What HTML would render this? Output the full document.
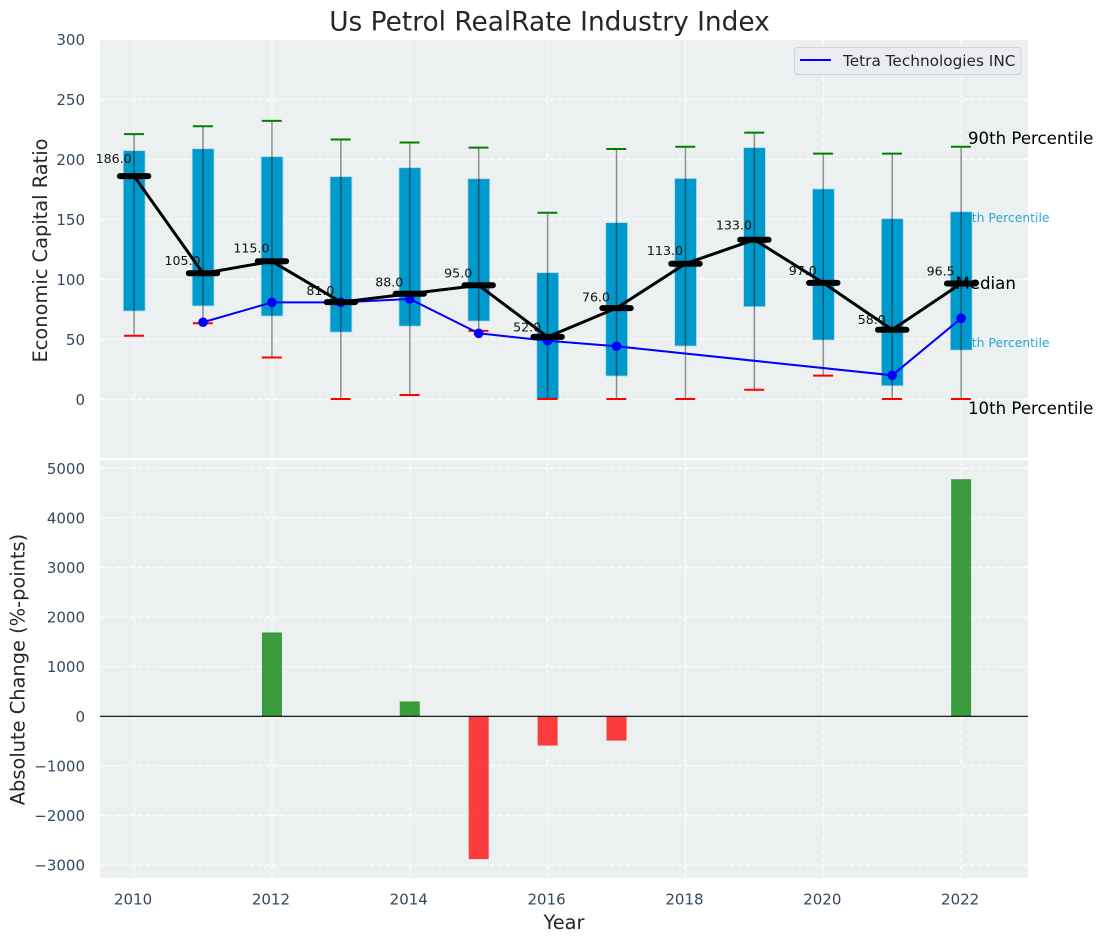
<!DOCTYPE html>
<html>
<head>
<meta charset="utf-8">
<title>Us Petrol RealRate Industry Index</title>
<style>
html,body{margin:0;padding:0;background:#fff;}
svg{display:block;font-family:"DejaVu Sans","Liberation Sans",sans-serif;}
</style>
</head>
<body>
<svg id="chart" xmlns="http://www.w3.org/2000/svg" width="1103" height="942" viewBox="0 0 1103 942">
  <rect x="0" y="0" width="1103" height="942" fill="#ffffff"/>
  <rect x="100" y="40" width="928" height="418" fill="#ecf0f1"/>
  <rect x="100" y="460" width="928" height="418" fill="#ecf0f1"/>
  <g id="grid"></g>
  <text x="956" y="222" font-size="12.4" fill="#0099cc" fill-opacity="0.85">75th Percentile</text>
  <text x="956" y="347" font-size="12.4" fill="#0099cc" fill-opacity="0.85">25th Percentile</text>
  <g id="marks"></g>
  <text x="549.5" y="30.5" font-size="26.4" fill="#262626" text-anchor="middle">Us Petrol RealRate Industry Index</text>
  <text x="0" y="0" transform="translate(47,250.5) rotate(-90)" font-size="19.4" fill="#262626" text-anchor="middle">Economic Capital Ratio</text>
  <text x="0" y="0" transform="translate(24.5,669.5) rotate(-90)" font-size="19.4" fill="#262626" text-anchor="middle">Absolute Change (%-points)</text>
  <text x="564" y="929" font-size="19.4" fill="#262626" text-anchor="middle">Year</text>
  <text x="968" y="144" font-size="16.6" fill="#000000">90th Percentile</text>
  <text x="955.5" y="289" font-size="16.6" fill="#000000">Median</text>
  <text x="968" y="414" font-size="16.6" fill="#000000">10th Percentile</text>
  <g>
    <rect x="794.5" y="47.5" width="226.5" height="27" rx="3" fill="#eaecf1" stroke="#cfd2d6" stroke-width="1"/>
    <line x1="800" x2="831" y1="60" y2="60" stroke="#0000ff" stroke-width="2"/>
    <text x="843" y="66" font-size="15.3" fill="#262626">Tetra Technologies INC</text>
  </g>
</svg>
<script>
const years = [2010,2011,2012,2013,2014,2015,2016,2017,2018,2019,2020,2021,2022];
const p90 = [221,227.5,232,216.5,214,209.7,155.5,208.6,210.5,222.2,204.7,204.7,210.5];
const p75 = [207.2,208.8,202.2,185.5,193,183.8,105.5,147.2,184,209.7,175.3,150.5,156.3];
const medians = [186,105,115,81,88,95,52,76,113,133,97,58,96.5];
const p25 = [73.6,77.8,69.4,56,61,65.2,0,19.4,44.4,77.2,49.4,11.3,41];
const p10 = [53,63.4,34.8,0.3,3.6,57,0.3,0.3,0.3,8,19.7,0.3,0.3];
const tetra = [null,64.2,80.8,80.8,83.6,55,48.8,44.2,null,null,null,20,67.5];
const changes = [0,0,1690,0,300,-2880,-590,-490,0,0,0,0,4780];
const xTicks = [2010,2012,2014,2016,2018,2020,2022];
const topTicks = [0,50,100,150,200,250,300];
const bottomTicks = [-3000,-2000,-1000,0,1000,2000,3000,4000,5000];

const NS = 'http://www.w3.org/2000/svg';
const gridG = document.getElementById('grid');
const marksG = document.getElementById('marks');
const X = v => 134.1 + (v - 2010) * 68.92;
const YT = v => 399.3 - v * 1.2;
const YB = v => 716.3 - v * 0.0496;

function mk(tag, attrs, parent, text) {
  const el = document.createElementNS(NS, tag);
  for (const k in attrs) el.setAttribute(k, attrs[k]);
  if (text !== undefined) el.textContent = text;
  parent.appendChild(el);
  return el;
}
const gridStyle = {stroke:'#ffffff', 'stroke-width':1.2, 'stroke-dasharray':'5 2.5', 'stroke-opacity':0.9};

xTicks.forEach(t => {
  const g1 = mk('line', Object.assign({x1:X(t), x2:X(t), y1:40, y2:458}, gridStyle), gridG);
  
  
  const g2 = mk('line', Object.assign({x1:X(t), x2:X(t), y1:460, y2:878}, gridStyle), gridG);
  
  
  const l = mk('text', {x:X(t)-1, y:904.5, 'font-size':15, fill:'#34495e', 'text-anchor':'middle'}, gridG, String(t));
  
  
});
topTicks.forEach(t => {
  const g = mk('line', Object.assign({x1:100, x2:1028, y1:YT(t), y2:YT(t)}, gridStyle), gridG);
  
  
  const l = mk('text', {x:85, y:YT(t)+5.5, 'font-size':15, fill:'#34495e', 'text-anchor':'end'}, gridG, String(t));
  
  
});
bottomTicks.forEach(t => {
  const g = mk('line', Object.assign({x1:100, x2:1028, y1:YB(t), y2:YB(t)}, gridStyle), gridG);
  
  
  const l = mk('text', {x:85, y:YB(t)+5.5, 'font-size':15, fill:'#34495e', 'text-anchor':'end'}, gridG, String(t).replace('-', '\u2212'));
  
  
});

years.forEach((yr, i) => {
  const x = X(yr);
  const b = mk('rect', {x:x-10.8, y:YT(p75[i]), width:21.8, height:YT(p25[i])-YT(p75[i]), fill:'#0099cc', stroke:'#a8d8ea', 'stroke-width':0.8}, marksG);
  
  
  const w = mk('line', {x1:x, x2:x, y1:YT(p90[i]), y2:YT(p10[i]), stroke:'#000000', 'stroke-opacity':0.42, 'stroke-width':1.5}, marksG);
  
  
  const ct = mk('line', {x1:x-10.2, x2:x+9.8, y1:YT(p90[i]), y2:YT(p90[i]), stroke:'#008000', 'stroke-width':2}, marksG);
  
  
  const cb = mk('line', {x1:x-10.2, x2:x+9.8, y1:YT(p10[i]), y2:YT(p10[i]), stroke:'#ff0000', 'stroke-width':2}, marksG);
  
  
});

let segs = [];
years.forEach((yr, i) => { if (tetra[i] !== null) segs.push(X(yr) + ',' + YT(tetra[i])); });
const tl = mk('polyline', {points:segs.join(' '), fill:'none', stroke:'#0000ff', 'stroke-width':2}, marksG);


years.forEach((yr, i) => {
  if (tetra[i] === null) return;
  const c = mk('circle', {cx:X(yr), cy:YT(tetra[i]), r:4.8, fill:'#0000ff'}, marksG);
  
  
});

const mp = years.map((yr, i) => X(yr) + ',' + YT(medians[i])).join(' ');
const ml = mk('polyline', {points:mp, fill:'none', stroke:'#000000', 'stroke-width':3}, marksG);


years.forEach((yr, i) => {
  const x = X(yr);
  const c = mk('line', {x1:x-14.2, x2:x+14.2, y1:YT(medians[i]), y2:YT(medians[i]), stroke:'#000000', 'stroke-width':6, 'stroke-linecap':'round'}, marksG);
  
  
  const l = mk('text', {x:x-20.5, y:YT(medians[i]*1.05)-2.1, 'font-size':12.6, fill:'#111111', 'text-anchor':'middle'}, marksG, medians[i].toFixed(1));
  
  
});

years.forEach((yr, i) => {
  if (!changes[i]) return;
  const top = Math.min(YB(0), YB(changes[i]));
  const h = Math.abs(YB(changes[i]) - YB(0));
  const b = mk('rect', {x:X(yr)-10, y:top, width:20, height:h, fill:changes[i] > 0 ? '#008000' : '#ff0000', 'fill-opacity':0.75}, marksG);
  
  
});
const zero = mk('line', {x1:100, x2:1028, y1:YB(0), y2:YB(0), stroke:'#000000', 'stroke-width':1.2}, marksG);


</script>
</body>
</html>
